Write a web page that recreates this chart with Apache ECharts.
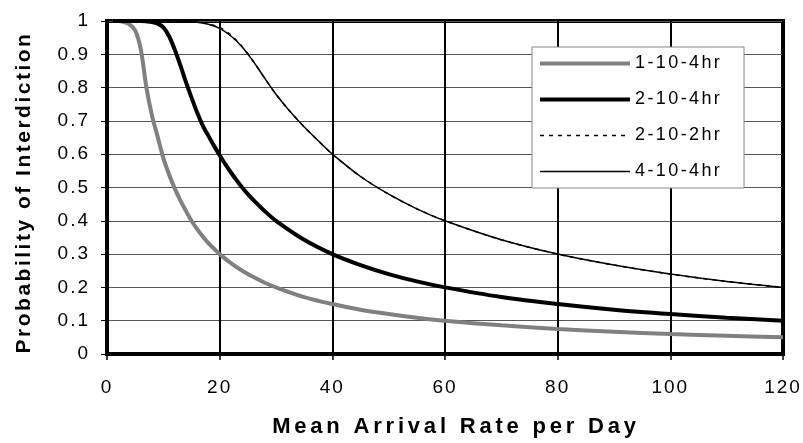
<!DOCTYPE html>
<html>
<head>
<meta charset="utf-8">
<script src="https://cdn.jsdelivr.net/npm/echarts@6/dist/echarts.min.js"></script>
<style>html,body{margin:0;padding:0;background:#fff}#c{width:803px;height:443px}</style>
</head>
<body>
<div id="c"></div>
<script>
// Data
const seriesNames = ['1-10-4hr', '2-10-4hr', '2-10-2hr', '4-10-4hr'];
const xTicks = [0, 20, 40, 60, 80, 100, 120];
const yTicks = [0, 0.1, 0.2, 0.3, 0.4, 0.5, 0.6, 0.7, 0.8, 0.9, 1];

const x1 = [1, 2, 3, 4, 5, 6, 7, 8, 9, 10, 11, 12, 13, 14, 15, 16, 17, 18, 19, 20, 22, 24, 26, 28, 30, 35, 40, 45, 50, 55, 60, 70, 80, 90, 100, 110, 120];
const y1 = [1, 1, 0.997, 0.99, 0.972, 0.915, 0.80, 0.715, 0.652, 0.588, 0.54, 0.498, 0.462, 0.43, 0.4, 0.375, 0.353, 0.333, 0.316, 0.3, 0.273, 0.25, 0.231, 0.214, 0.2, 0.171, 0.15, 0.133, 0.12, 0.109, 0.1, 0.086, 0.075, 0.067, 0.06, 0.055, 0.05];

const x2 = [1, 2, 3, 4, 5, 6, 7, 8, 9, 10, 11, 12, 13, 14, 15, 16, 17, 18, 19, 20, 21, 22, 23, 24, 25, 26, 28, 30, 35, 40, 45, 50, 55, 60, 70, 80, 90, 100, 110, 120];
const y2 = [1, 1, 1, 1, 1, 1, 0.999, 0.997, 0.992, 0.981, 0.955, 0.915, 0.868, 0.817, 0.77, 0.725, 0.686, 0.655, 0.625, 0.597, 0.57, 0.545, 0.522, 0.5, 0.48, 0.462, 0.429, 0.4, 0.343, 0.3, 0.267, 0.24, 0.218, 0.2, 0.171, 0.15, 0.133, 0.12, 0.109, 0.1];

const x3 = [1, 4, 8, 10, 12, 14, 16, 18, 20, 22, 24, 26, 28, 30, 32, 34, 36, 38, 40, 45, 50, 55, 60, 70, 80, 90, 100, 110, 120];
const y3 = [1, 1, 1, 1, 1, 0.999, 0.997, 0.991, 0.981, 0.958, 0.923, 0.878, 0.828, 0.78, 0.738, 0.7, 0.665, 0.632, 0.6, 0.533, 0.48, 0.436, 0.4, 0.343, 0.3, 0.267, 0.24, 0.218, 0.2];

const x4 = [1, 4, 8, 10, 12, 14, 16, 18, 20, 22, 24, 26, 28, 30, 32, 34, 36, 38, 40, 45, 50, 55, 60, 70, 80, 90, 100, 110, 120];
const y4 = [1, 1, 1, 1, 1, 0.999, 0.996, 0.99, 0.978, 0.955, 0.922, 0.878, 0.828, 0.78, 0.738, 0.7, 0.665, 0.632, 0.6, 0.533, 0.48, 0.436, 0.4, 0.343, 0.3, 0.267, 0.24, 0.218, 0.2];

const pairs = (xs, ys) => xs.map((x, i) => [x, ys[i]]);
const FONT = '"Liberation Sans", Arial, sans-serif';

// Letter spacing by font size (the reference text is widely tracked)
const spacingBySize = {'19px': '2px', '18px': '2.4px', '22px': '3.8px', '21px': '2.5px'};
(function () {
  const proto = CanvasRenderingContext2D.prototype;
  const orig = proto.fillText;
  proto.fillText = function (t, x, y, w) {
    const m = /(\d+(?:\.\d+)?px)/.exec(this.font || '');
    const ls = m && spacingBySize[m[1]];
    if (ls && 'letterSpacing' in this) {
      const prev = this.letterSpacing;
      this.letterSpacing = ls;
      const r = w === undefined ? orig.call(this, t, x, y) : orig.call(this, t, x, y, w);
      this.letterSpacing = prev;
      return r;
    }
    return w === undefined ? orig.call(this, t, x, y) : orig.call(this, t, x, y, w);
  };
})();

const lineWidths = [4, 4, 1.5, 1.5];
const lineColors = ['#808080', '#000', '#000', '#000'];
const lineTypes = ['solid', 'solid', [4, 5], 'solid'];

const chart = echarts.init(document.getElementById('c'), null, {renderer: 'canvas'});
chart.setOption({
  animation: false,
  backgroundColor: '#fff',
  grid: {left: 107, right: 20, top: 21, bottom: 88, show: true, borderColor: '#000', borderWidth: 4, backgroundColor: 'transparent', containLabel: false},
  legend: {
    data: seriesNames.map((n, i) => ({name: n, lineStyle: {width: lineWidths[i], color: lineColors[i], type: lineTypes[i]}, itemStyle: {opacity: 0}})),
    orient: 'vertical',
    left: 532, top: 47,
    backgroundColor: '#fff',
    borderColor: '#888', borderWidth: 1,
    padding: [7.5, 41, 7.5, 6],
    itemWidth: 90, itemHeight: 14, itemGap: 18,
    itemStyle: {opacity: 0},
    textStyle: {fontFamily: FONT, fontSize: 18, color: '#000', lineHeight: 18}
  },
  xAxis: {
    type: 'value', min: xTicks[0], max: xTicks[xTicks.length - 1], interval: 20,
    name: 'Mean Arrival Rate per Day', nameLocation: 'middle', nameGap: 62,
    nameTextStyle: {fontFamily: FONT, fontSize: 22, fontWeight: 'bold', color: '#000', padding: [0, 0, 0, 22]},
    axisLine: {show: true, onZero: false, lineStyle: {color: '#000', width: 4}},
    axisTick: {show: true, length: 6, lineStyle: {color: '#000', width: 1.5}},
    axisLabel: {fontFamily: FONT, fontSize: 19, color: '#000', margin: 24},
    splitLine: {show: true, lineStyle: {color: '#000', width: 2}}
  },
  yAxis: {
    type: 'value', min: yTicks[0], max: yTicks[yTicks.length - 1], interval: 0.1,
    name: 'Probability of Interdiction', nameLocation: 'middle', nameGap: 72,
    nameTextStyle: {fontFamily: FONT, fontSize: 21, fontWeight: 'bold', color: '#000', padding: [0, 10, 0, 0]},
    axisLine: {show: true, onZero: false, lineStyle: {color: '#000', width: 4}},
    axisTick: {show: true, length: 6, lineStyle: {color: '#000', width: 1}},
    axisLabel: {fontFamily: FONT, fontSize: 19, color: '#000', margin: 17},
    splitLine: {show: true, lineStyle: {color: '#555', width: 1}}
  },
  series: seriesNames.map((n, i) => ({
    name: n, type: 'line',
    data: pairs([x1, x2, x3, x4][i], [y1, y2, y3, y4][i]),
    smooth: 0.3, symbol: 'none', showSymbol: false,
    z: [4, 5, 2, 3][i],
    lineStyle: {color: lineColors[i], width: lineWidths[i], type: lineTypes[i]},
    itemStyle: {color: lineColors[i]}
  }))
});
</script>
</body>
</html>
